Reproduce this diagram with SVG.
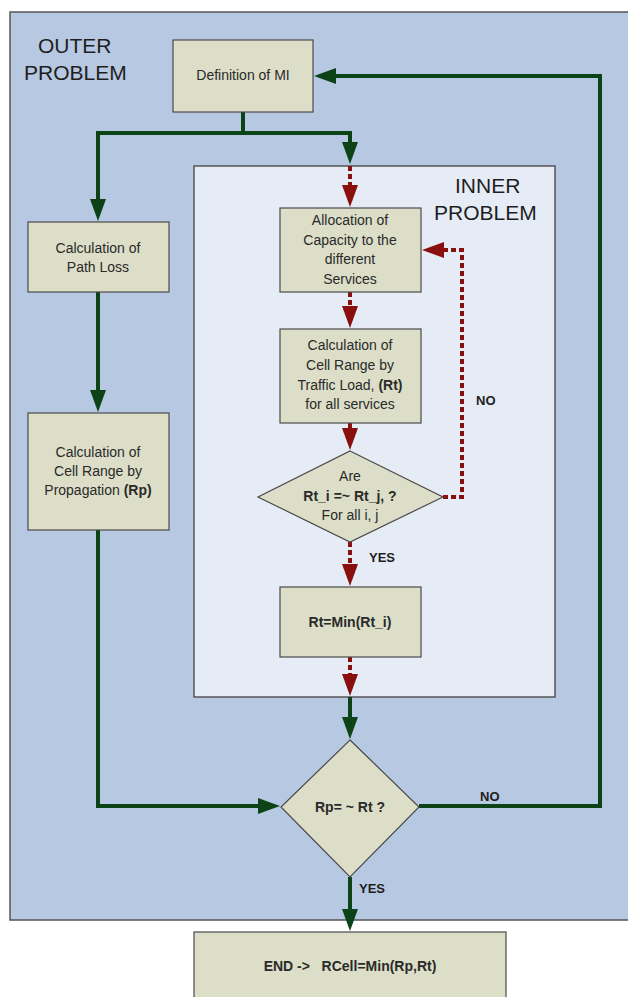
<svg xmlns="http://www.w3.org/2000/svg" width="628" height="997" viewBox="0 0 628 997">
<style>
.box{fill:#dcdec7;stroke:#4a4a4a;stroke-width:1.2}
.t{font-family:"Liberation Sans",Arial,sans-serif;font-size:14px;fill:#2a2a2a;text-anchor:middle}
.b{font-weight:bold}
.big{font-family:"Liberation Sans",Arial,sans-serif;font-size:21px;fill:#1e1e1e}
.g{fill:none;stroke:#0b4316;stroke-width:4}
.r{fill:none;stroke:#8a1010;stroke-width:4;stroke-dasharray:5 3}
.lbl{font-family:"Liberation Sans",Arial,sans-serif;font-size:13px;font-weight:bold;fill:#1e1e1e}
</style>
<defs>
<marker id="ag" markerUnits="userSpaceOnUse" markerWidth="22" markerHeight="16" viewBox="0 0 22 16" refX="1" refY="8" orient="auto"><path d="M0,0 L22,8 L0,16 z" fill="#0b4316"/></marker>
<marker id="ar" markerUnits="userSpaceOnUse" markerWidth="22" markerHeight="16" viewBox="0 0 22 16" refX="1" refY="8" orient="auto"><path d="M0,0 L22,8 L0,16 z" fill="#8a1010"/></marker>
</defs>
<rect width="628" height="997" fill="#ffffff"/>
<g id="outer">
<rect x="10" y="12" width="622" height="908" fill="#b7c8e2" stroke="#555" stroke-width="1.5"/>
<text class="big" x="38" y="53">OUTER</text>
<text class="big" x="24" y="80">PROBLEM</text>
</g>
<g id="inner">
<rect x="194" y="166" width="361" height="531" fill="#e6ecf6" stroke="#555" stroke-width="1.5"/>
<text class="big" x="455" y="193">INNER</text>
<text class="big" x="434" y="220">PROBLEM</text>
</g>
<g id="connectors">
<path class="g" d="M243,112 V133 H98 V200" marker-end="url(#ag)"/>
<path class="g" d="M243,133 H350 V143" marker-end="url(#ag)"/>
<path class="r" d="M350,166 V186" marker-end="url(#ar)"/>
<path class="r" d="M350,292 V307" marker-end="url(#ar)"/>
<path class="r" d="M350,423 V429" marker-end="url(#ar)"/>
<path class="r" d="M350,542 V565" marker-end="url(#ar)"/>
<path class="r" d="M443,497 H462 V250 H443" marker-end="url(#ar)"/>
<path class="r" d="M350,657 V675" marker-end="url(#ar)"/>
<path class="g" d="M350,697 V718" marker-end="url(#ag)"/>
<path class="g" d="M98,292 V391" marker-end="url(#ag)"/>
<path class="g" d="M98,530 V806 H259" marker-end="url(#ag)"/>
<path class="g" d="M419,806 H600 V76 H335" marker-end="url(#ag)"/>
<path class="g" d="M350,877 V910" marker-end="url(#ag)"/>
<text class="lbl" x="476" y="405">NO</text>
<text class="lbl" x="369" y="562">YES</text>
<text class="lbl" x="480" y="801">NO</text>
<text class="lbl" x="359" y="893">YES</text>
</g>
<g id="definition">
<rect class="box" x="173" y="40" width="140" height="72"/>
<text class="t" x="243" y="80">Definition of MI</text>
</g>
<g id="pathloss">
<rect class="box" x="28" y="222" width="141" height="70"/>
<text class="t" x="98" y="253">Calculation of</text>
<text class="t" x="98" y="272">Path Loss</text>
</g>
<g id="propagation">
<rect class="box" x="28" y="413" width="141" height="117"/>
<text class="t" x="98" y="457">Calculation of</text>
<text class="t" x="98" y="476">Cell Range by</text>
<text class="t" x="98" y="495">Propagation <tspan class="b">(Rp)</tspan></text>
</g>
<g id="allocation">
<rect class="box" x="280" y="208" width="141" height="84"/>
<text class="t" x="350" y="225">Allocation of</text>
<text class="t" x="350" y="245">Capacity to the</text>
<text class="t" x="350" y="264">different</text>
<text class="t" x="350" y="284">Services</text>
</g>
<g id="traffic">
<rect class="box" x="280" y="329" width="141" height="94"/>
<text class="t" x="350" y="350">Calculation of</text>
<text class="t" x="350" y="370">Cell Range by</text>
<text class="t" x="350" y="390">Traffic Load, <tspan class="b">(Rt)</tspan></text>
<text class="t" x="350" y="409">for all services</text>
</g>
<g id="decision-inner">
<polygon class="box" points="350,451 443,497 350,542 258,497"/>
<text class="t" x="350" y="481">Are</text>
<text class="t b" x="350" y="501">Rt_i =~ Rt_j, ?</text>
<text class="t" x="350" y="520">For all i, j</text>
</g>
<g id="rtmin">
<rect class="box" x="280" y="587" width="141" height="70"/>
<text class="t b" x="350" y="627">Rt=Min(Rt_i)</text>
</g>
<g id="decision-outer">
<polygon class="box" points="350,740 419,807 350,877 281,807"/>
<text class="t b" x="350" y="812">Rp= ~ Rt ?</text>
</g>
<g id="end">
<rect class="box" x="194" y="932" width="312" height="80"/>
<text class="t b" x="350" y="971" xml:space="preserve">END -&gt;   RCell=Min(Rp,Rt)</text>
</g>
</svg>
